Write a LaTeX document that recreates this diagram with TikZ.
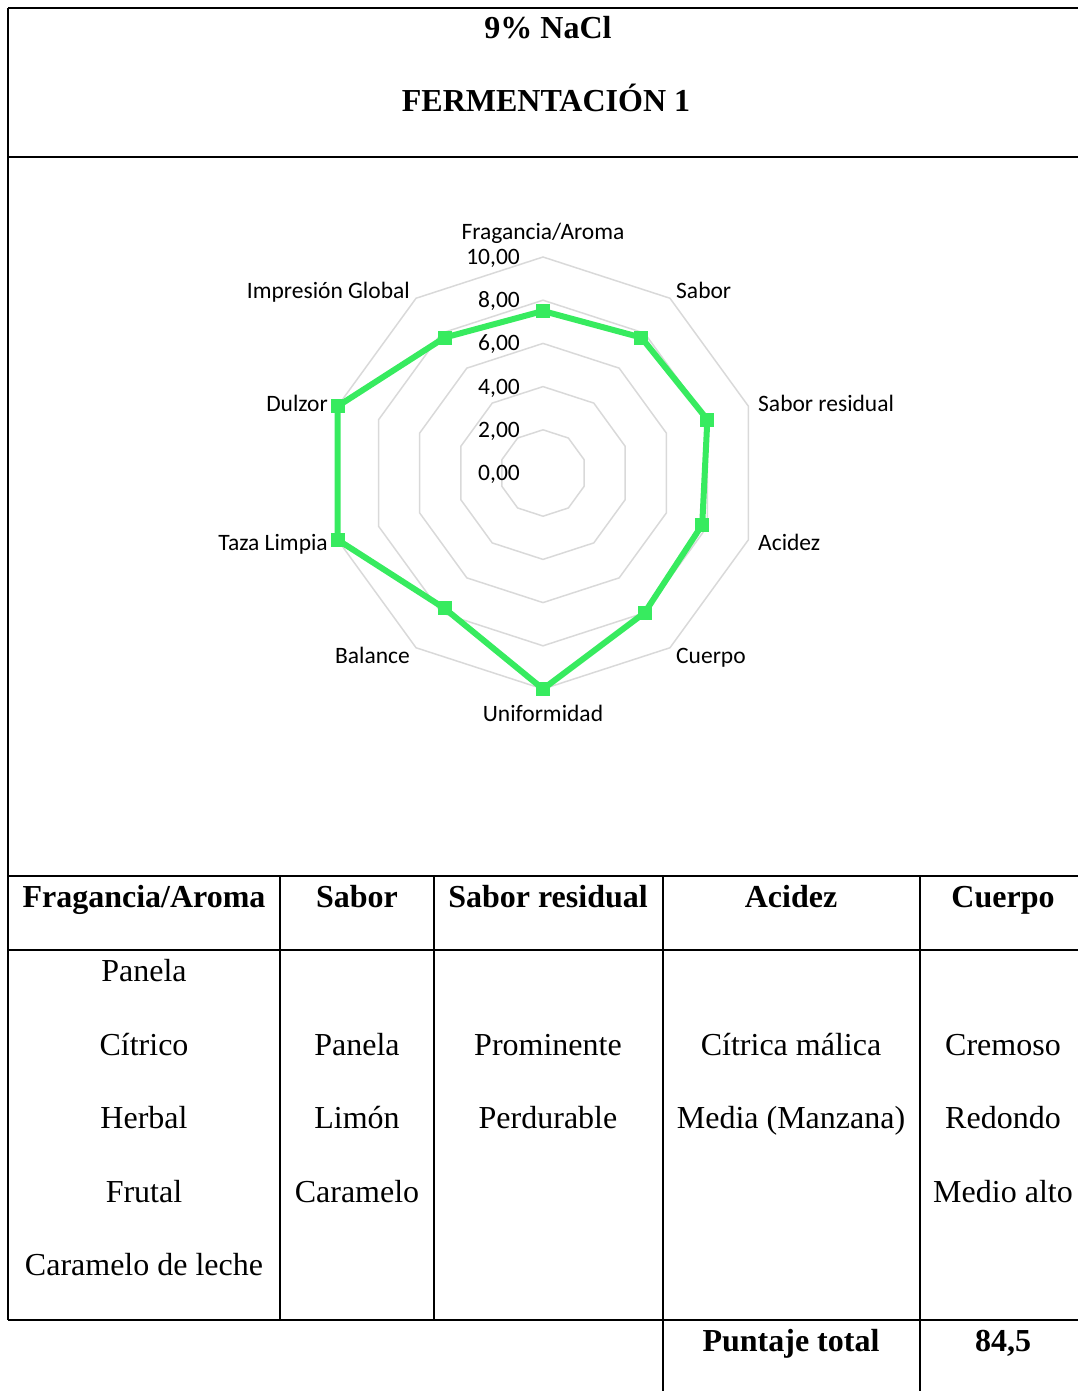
\documentclass[tikz,border=0pt]{standalone}
\usepackage{fontspec}
\setmainfont{Liberation Serif}
\newfontfamily\chartfont{Carlito}
\definecolor{ringgray}{RGB}{217,217,217}
\definecolor{seriesgreen}{RGB}{55,235,95}

\begin{document}
\begin{tikzpicture}[x=1pt, y=-1pt,
  rule/.style={line width=2pt},
  ring/.style={draw=ringgray, line width=1.5pt},
  series/.style={draw=seriesgreen, line width=6pt, line join=round},
  marker/.style={rectangle, fill=seriesgreen, minimum size=14pt, inner sep=0pt},
  axislabel/.style={font=\chartfont\fontsize{23.5}{28}\selectfont, inner sep=0pt,
    text height=15pt, text depth=0pt},
  head/.style={font=\fontsize{32}{38}\selectfont\bfseries, inner sep=0pt,
    text height=22pt, text depth=0pt},
  cell/.style={font=\fontsize{32}{38}\selectfont, inner sep=0pt,
    text height=22pt, text depth=0pt}
  ]
  \useasboundingbox (0,0) rectangle (1078,1391);

  % title
  \node[head] (salt) at (548,28) {9\% NaCl};
  \node[head] (ferm) at (546,101) {FERMENTACIÓN 1};

  % radar chart
  \begin{scope}[shift={(543,473)}]
    \foreach \r in {2,4,6,8,10}
      \draw[ring] (-90:\r*21.6) \foreach \a in {1,...,9}{ -- (-90+36*\a:\r*21.6)} -- cycle;
    \foreach \r in {0,2,...,10}
      \node[axislabel, anchor=east] (tick\r) at (-23,-\r*21.6) {\r,00};
    \foreach \v [count=\i from 0] in {7.5,7.75,8,7.75,8,10,7.75,10,10,7.75}
      \coordinate (c\i) at (-90+36*\i:\v*21.6);
    \draw[series] (c0) -- (c1) -- (c2) -- (c3) -- (c4) -- (c5) -- (c6) -- (c7) -- (c8) -- (c9) -- cycle;
    \foreach \i in {0,...,9}
      \node[marker] (m\i) at (c\i) {};
  \end{scope}

  \node[axislabel] (fragancia) at (543,232) {Fragancia/Aroma};
  \node[axislabel, anchor=west] (sabor) at (676,291) {Sabor};
  \node[axislabel, anchor=west] (residual) at (758,404) {Sabor residual};
  \node[axislabel, anchor=west] (acidez) at (758,543) {Acidez};
  \node[axislabel, anchor=west] (cuerpo) at (676,656) {Cuerpo};
  \node[axislabel] (uniformidad) at (543,714) {Uniformidad};
  \node[axislabel, anchor=east] (balance) at (410,656) {Balance};
  \node[axislabel, anchor=east] (taza) at (328,543) {Taza Limpia};
  \node[axislabel, anchor=east] (dulzor) at (328,404) {Dulzor};
  \node[axislabel, anchor=east] (global) at (410,291) {Impresión Global};

  % table rules
  \draw[rule] (8,8) -- (1078,8);
  \draw[rule] (8,8) -- (8,1320);
  \draw[rule] (8,157) -- (1078,157);
  \draw[rule] (8,876) -- (1078,876);
  \draw[rule] (8,950) -- (1078,950);
  \draw[rule] (8,1320) -- (1078,1320);
  \draw[rule] (280,876) -- (280,1320);
  \draw[rule] (434,876) -- (434,1320);
  \draw[rule] (663,876) -- (663,1391);
  \draw[rule] (920,876) -- (920,1391);

  % header row
  \node[head] (h1) at (144,896) {Fragancia/Aroma};
  \node[head] (h2) at (357,896) {Sabor};
  \node[head] (h3) at (548,896) {Sabor residual};
  \node[head] (h4) at (791,896) {Acidez};
  \node[head] (h5) at (1003,896) {Cuerpo};

  % body
  \node[cell] (a1) at (144,970) {Panela};
  \node[cell] (a2) at (144,1044) {Cítrico};
  \node[cell] (a3) at (144,1117) {Herbal};
  \node[cell] (a4) at (144,1191) {Frutal};
  \node[cell] (a5) at (144,1264) {Caramelo de leche};
  \node[cell] (b1) at (357,1044) {Panela};
  \node[cell] (b2) at (357,1117) {Limón};
  \node[cell] (b3) at (357,1191) {Caramelo};
  \node[cell] (r1) at (548,1044) {Prominente};
  \node[cell] (r2) at (548,1117) {Perdurable};
  \node[cell] (d1) at (791,1044) {Cítrica málica};
  \node[cell] (d2) at (791,1117) {Media (Manzana)};
  \node[cell] (e1) at (1003,1044) {Cremoso};
  \node[cell] (e2) at (1003,1117) {Redondo};
  \node[cell] (e3) at (1003,1191) {Medio alto};

  % total
  \node[head] (ptotal) at (791,1340) {Puntaje total};
  \node[head] (score) at (1003,1340) {84,5};
\end{tikzpicture}
\end{document}
